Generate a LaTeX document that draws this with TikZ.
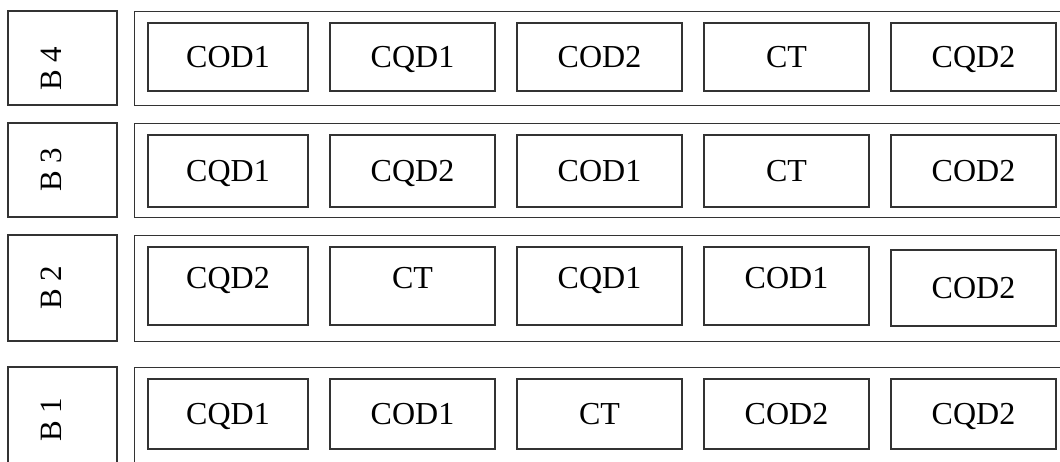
\documentclass[tikz,border=0pt]{standalone}
\usepackage{fontspec}
\setmainfont{Liberation Serif}
\usetikzlibrary{positioning}
\tikzstyle{tag} = [rectangle, rotate=90, minimum width=94pt, minimum height=109pt, text depth=23pt, inner sep=0pt, draw=black!80, line width=1.4pt, font=\fontsize{31}{36}\selectfont]
\tikzstyle{band} = [rectangle, anchor=north west, minimum width=960pt, minimum height=94pt, inner sep=0pt, draw=black!80, line width=1.4pt]
\tikzstyle{slot} = [rectangle, minimum width=165pt, minimum height=68pt, text centered, text depth=0pt, inner sep=0pt, draw=black!80, line width=1.4pt, font=\fontsize{32}{38}\selectfont]
\tikzstyle{first} = [minimum width=160pt]

\begin{document}
\begin{tikzpicture}[x=1pt, y=-1pt, node distance=20.6pt]

    \useasboundingbox (0,0) rectangle (1060,462);
    \clip (0,0) rectangle (1060,462);

    % block 4
    \node (lab4) [tag] at (62.5,58) {B 4\hspace*{22pt}};
    \node (b4) [band] at (134,11) {};
    \node (b4a) [slot, first] at (228,57) {COD1};
    \node (b4b) [slot, right=of b4a] {CQD1};
    \node (b4c) [slot, right=of b4b] {COD2};
    \node (b4d) [slot, right=of b4c] {CT};
    \node (b4e) [slot, right=of b4d] {CQD2};

    % block 3
    \node (lab3) [tag] at (62.5,170) {B 3};
    \node (b3) [band] at (134,123) {};
    \node (b3a) [slot, first, minimum height=72pt] at (228,171) {CQD1};
    \node (b3b) [slot, minimum height=72pt, right=of b3a] {CQD2};
    \node (b3c) [slot, minimum height=72pt, right=of b3b] {COD1};
    \node (b3d) [slot, minimum height=72pt, right=of b3c] {CT};
    \node (b3e) [slot, minimum height=72pt, right=of b3d] {COD2};

    % block 2
    \node (lab2) [tag, minimum width=106pt] at (62.5,288) {B 2};
    \node (b2) [band, minimum height=106pt] at (134,235) {};
    \node (b2a) [slot, first, minimum height=78pt, text depth=16pt] at (228,286) {CQD2};
    \node (b2b) [slot, minimum height=78pt, text depth=16pt, right=of b2a] {CT};
    \node (b2c) [slot, minimum height=78pt, text depth=16pt, right=of b2b] {CQD1};
    \node (b2d) [slot, minimum height=78pt, text depth=16pt, right=of b2c] {COD1};
    \node (b2e) [slot, minimum height=76pt, right=of b2d, yshift=-2pt] {COD2};

    % block 1
    \node (lab1) [tag, minimum width=106pt] at (62.5,420) {B 1};
    \node (b1) [band, minimum height=106pt] at (134,367) {};
    \node (b1a) [slot, first, minimum height=70pt] at (228,414) {CQD1};
    \node (b1b) [slot, minimum height=70pt, right=of b1a] {COD1};
    \node (b1c) [slot, minimum height=70pt, right=of b1b] {CT};
    \node (b1d) [slot, minimum height=70pt, right=of b1c] {COD2};
    \node (b1e) [slot, minimum height=70pt, right=of b1d] {CQD2};

\end{tikzpicture}
\end{document}
